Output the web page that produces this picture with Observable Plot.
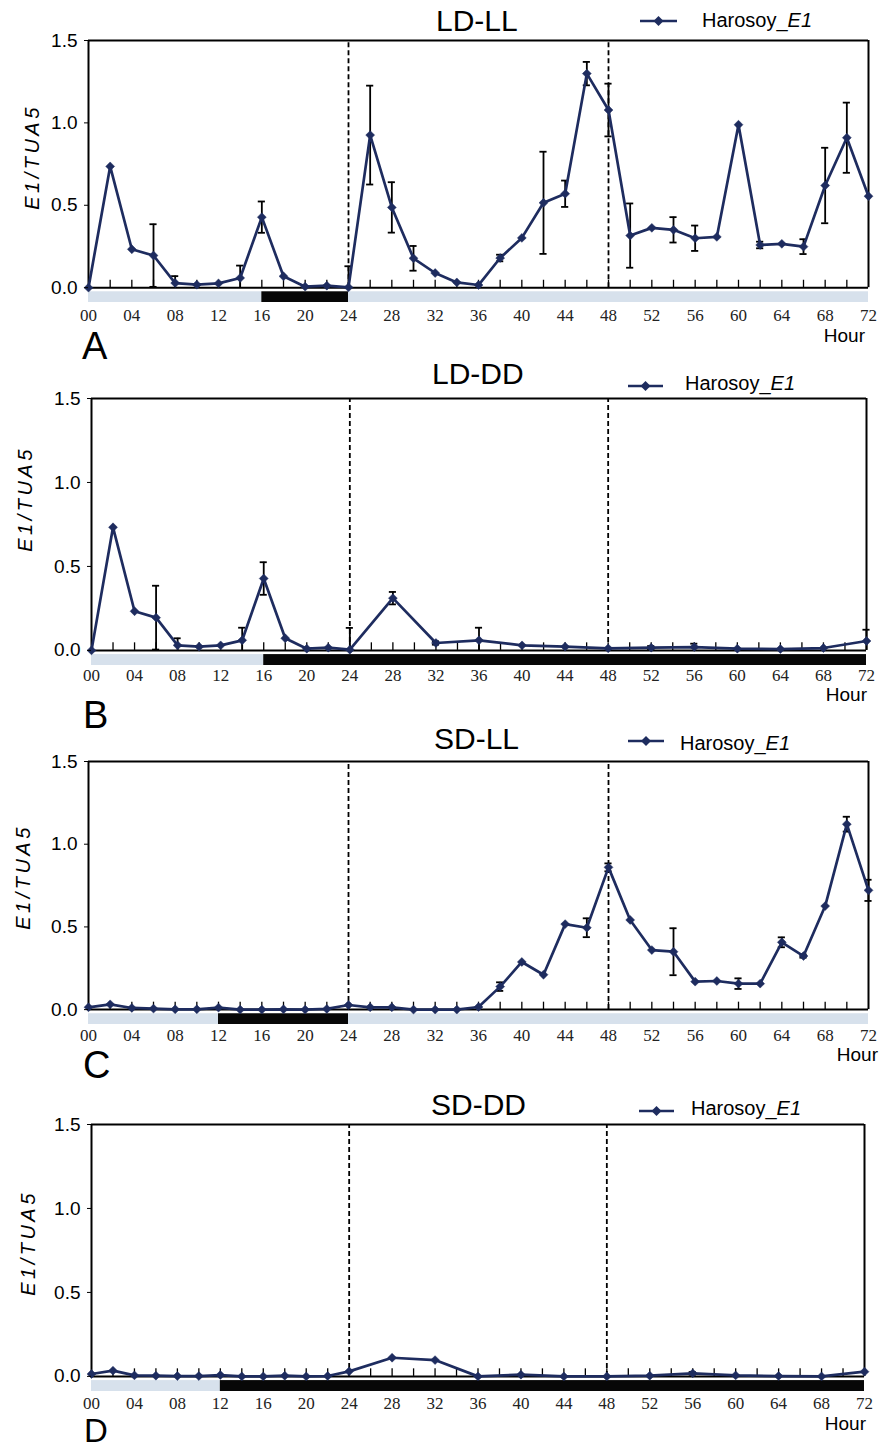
<!DOCTYPE html>
<html>
<head>
<meta charset="utf-8">
<script src="https://cdn.jsdelivr.net/npm/d3@7"></script>
<script src="https://cdn.jsdelivr.net/npm/@observablehq/plot@0.6"></script>
<style>
  body { margin: 0; background: #fff; }
  #page { position: relative; width: 884px; height: 1450px; overflow: hidden; font-family: "Liberation Sans", Arial, sans-serif; color: #000; }
  .abs { position: absolute; white-space: nowrap; }
  .title { font-size: 30px; }
  .legtext { font-size: 20px; }
  .hour { font-size: 19px; }
  .ylab { font-size: 20px; line-height: 1; font-style: italic; letter-spacing: 3.5px; transform: translate(-50%, -50%) rotate(-90deg); }
  .panel { position: absolute; left: 0; }
  .panel g[aria-label="x-axis tick label"] text { font-family: "Liberation Serif", "DejaVu Serif", serif; }
</style>
</head>
<body>
<div id="page"></div>
<script>
// ---------- data ----------
const hoursFull = [0,2,4,6,8,10,12,14,16,18,20,22,24,26,28,30,32,34,36,38,40,42,44,46,48,50,52,54,56,58,60,62,64,66,68,70,72];
const hoursSparse = [0,2,4,6,8,10,12,14,16,18,20,22,24,28,32,36,40,44,48,52,56,60,64,68,72];
const tickHours = [0,4,8,12,16,20,24,28,32,36,40,44,48,52,56,60,64,68,72];
const minorTickHours = [2,4,6,8,10,12,14,16,18,20,22,24,26,28,30,32,34,36,38,40,42,44,46,48,50,52,54,56,58,60,62,64,66,68,70];
const dashedHours = [24, 48];
const yTicks = [0, 0.5, 1.0, 1.5];
const titles = ["LD-LL", "LD-DD", "SD-LL", "SD-DD"];
const letters = ["A", "B", "C", "D"];
const seriesName = "Harosoy_";
const seriesItalic = "E1";
const yLabel = "E1/TUA5";
const xLabel = "Hour";

const valuesA = [0, 0.736, 0.233, 0.195, 0.028, 0.018, 0.026, 0.059, 0.428, 0.069, 0.006, 0.012, 0.002, 0.926, 0.487, 0.178, 0.089, 0.032, 0.016, 0.18, 0.302, 0.515, 0.57, 1.299, 1.078, 0.316, 0.363, 0.351, 0.3, 0.308, 0.989, 0.259, 0.266, 0.249, 0.62, 0.91, 0.555];
const errorsA = [0, 0, 0, 0.19, 0.042, 0, 0, 0.075, 0.095, 0, 0, 0, 0.128, 0.30, 0.153, 0.075, 0, 0, 0, 0.02, 0, 0.31, 0.08, 0.071, 0.16, 0.195, 0, 0.077, 0.077, 0, 0, 0.02, 0, 0.045, 0.229, 0.213, 0];
const valuesB = [0, 0.733, 0.233, 0.195, 0.03, 0.022, 0.03, 0.06, 0.428, 0.072, 0.01, 0.016, 0.004, 0.311, 0.044, 0.06, 0.03, 0.022, 0.012, 0.016, 0.02, 0.01, 0.008, 0.014, 0.056];
const errorsB = [0, 0, 0, 0.19, 0.042, 0, 0, 0.075, 0.097, 0, 0, 0, 0.13, 0.037, 0.01, 0.075, 0, 0, 0, 0.01, 0.02, 0, 0, 0, 0.067];
const valuesC = [0.014, 0.032, 0.01, 0.006, 0.002, 0.002, 0.012, 0, 0, 0.002, 0, 0.004, 0.028, 0.014, 0.014, 0, 0, 0, 0.016, 0.139, 0.288, 0.211, 0.517, 0.495, 0.86, 0.542, 0.36, 0.35, 0.169, 0.173, 0.157, 0.157, 0.407, 0.324, 0.626, 1.121, 0.721];
const errorsC = [0, 0, 0, 0, 0, 0, 0, 0, 0, 0, 0, 0, 0, 0, 0, 0, 0, 0, 0, 0.026, 0, 0, 0, 0.057, 0.024, 0, 0, 0.142, 0, 0, 0.032, 0, 0.03, 0.01, 0, 0.045, 0.064];
const valuesD = [0.014, 0.034, 0.006, 0.004, 0.002, 0.002, 0.008, 0, 0, 0.004, 0, 0.002, 0.03, 0.111, 0.097, 0, 0.01, 0, 0, 0.004, 0.018, 0.006, 0.002, 0, 0.028];
const errorsD = [0, 0, 0, 0, 0, 0, 0, 0, 0, 0, 0, 0, 0, 0, 0, 0, 0, 0, 0, 0, 0.008, 0, 0, 0, 0];

// light / dark periods [start, end]
const lightA = [[0, 16], [24, 72]];
const darkA = [[16, 24]];
const lightB = [[0, 16]];
const darkB = [[16, 72]];
const lightC = [[0, 12], [24, 72]];
const darkC = [[12, 24]];
const lightD = [[0, 12]];
const darkD = [[12, 72]];

// ---------- layout ----------
const navy = "#1e2c5f";
const panels = [
  {hours: hoursFull, values: valuesA, errors: errorsA, light: lightA, dark: darkA,
   top: 0, height: 355, mt: 40, mb: 53, left: 88, right: 868, tickPad: 6,
   ylab: [32, 157], title: [436, 20], leg: [640, 677, 21, 702, 20], hour: [865, 336], letter: [82, 347, 38]},
  {hours: hoursSparse, values: valuesB, errors: errorsB, light: lightB, dark: darkB,
   top: 355, height: 367, mt: 43, mb: 57, left: 91, right: 866, tickPad: 3,
   ylab: [25, 499], title: [432, 373], leg: [628, 663, 386, 685, 383], hour: [867, 695], letter: [83, 716, 38]},
  {hours: hoursFull, values: valuesC, errors: errorsC, light: lightC, dark: darkC,
   top: 722, height: 363, mt: 39, mb: 61, left: 88, right: 868, tickPad: 4,
   ylab: [23, 877], title: [434, 738], leg: [628, 664, 741, 680, 743], hour: [878, 1055], letter: [83, 1066, 38]},
  {hours: hoursSparse, values: valuesD, errors: errorsD, light: lightD, dark: darkD,
   top: 1085, height: 365, mt: 39, mb: 59, left: 91, right: 864, tickPad: 5,
   ylab: [28, 1243], title: [431, 1104], leg: [639, 674, 1111, 691, 1108], hour: [866, 1424], letter: [84, 1431, 33]}
];

const page = document.getElementById("page");
function addDiv(cls, text, left, cy, size, lh) {
  const d = document.createElement("div");
  d.className = "abs " + cls;
  if (typeof text === "string") d.textContent = text; else d.appendChild(text);
  d.style.left = left + "px";
  d.style.fontSize = size + "px";
  d.style.lineHeight = lh;
  d.style.top = (cy - size * lh / 2) + "px";
  page.appendChild(d);
  return d;
}

panels.forEach((p, i) => {
  const data = p.hours.map((h, k) => ({h, v: p.values[k], e: p.errors[k]}));
  const err = data.filter(d => d.e > 0);
  const errLow = err.filter(d => d.v - d.e > 0);
  const light = p.light.map(([s, e]) => ({s, e}));
  const dark = p.dark.map(([s, e]) => ({s, e}));
  const capHalf = 0.33;

  const svg = Plot.plot({
    width: 884,
    height: p.height,
    marginLeft: p.left,
    marginRight: 884 - p.right,
    marginTop: p.mt,
    marginBottom: p.mb,
    style: {background: "transparent", fontFamily: "Liberation Sans, Arial, sans-serif", overflow: "visible"},
    x: {domain: [0, 72]},
    y: {domain: [-0.09, 1.5]},
    marks: [
      Plot.rect(light, {x1: "s", x2: "e", y1: -0.025, y2: -0.09, fill: "#d7e1ec"}),
      Plot.rect(dark, {x1: "s", x2: "e", y1: -0.025, y2: -0.09, fill: "#070707"}),
      Plot.ruleX(minorTickHours, {y1: 0, y2: 0.045, stroke: "#000", strokeWidth: 1.3}),
      Plot.ruleX(dashedHours, {y1: 0, y2: 1.5, stroke: "#000", strokeWidth: 1.8, strokeDasharray: "5,3"}),
      Plot.ruleY([0, 1.5], {x1: 0, x2: 72, stroke: "#000", strokeWidth: 2}),
      Plot.ruleX([0, 72], {y1: 0, y2: 1.5, stroke: "#000", strokeWidth: 2}),
      Plot.ruleX(err, {x: "h", y1: d => Math.max(0, d.v - d.e), y2: d => d.v + d.e, stroke: "#000", strokeWidth: 1.8}),
      Plot.ruleY(err, {y: d => d.v + d.e, x1: d => d.h - capHalf, x2: d => d.h + capHalf, stroke: "#000", strokeWidth: 1.8}),
      Plot.ruleY(errLow, {y: d => d.v - d.e, x1: d => d.h - capHalf, x2: d => d.h + capHalf, stroke: "#000", strokeWidth: 1.8}),
      Plot.line(data, {x: "h", y: "v", stroke: navy, strokeWidth: 2.7}),
      Plot.dot(data, {x: "h", y: "v", symbol: "diamond2", r: 4, fill: navy, stroke: navy, strokeWidth: 0.5}),
      Plot.axisY({ticks: yTicks, tickFormat: d => d.toFixed(1), tickSize: 4, tickPadding: 7, fontSize: 19, label: null, stroke: "#000"}),
      Plot.axisX({ticks: tickHours, tickFormat: d => String(d).padStart(2, "0"), tickSize: 0, tickPadding: p.tickPad, fontSize: 17, fontFamily: "Liberation Serif", fill: "#222", label: null})
    ]
  });
  svg.classList.add("panel");
  svg.style.top = p.top + "px";
  page.appendChild(svg);

  // y label
  const yl = document.createElement("div");
  yl.className = "abs ylab";
  yl.textContent = yLabel;
  yl.style.left = p.ylab[0] + "px";
  yl.style.top = p.ylab[1] + "px";
  page.appendChild(yl);

  // title
  addDiv("title", titles[i], p.title[0], p.title[1], 30, 0.9);

  // legend key
  const [lx1, lx2, ly, tx, ty] = p.leg;
  const key = d3.create("svg").attr("width", lx2 - lx1 + 4).attr("height", 14)
    .style("position", "absolute").style("left", (lx1 - 2) + "px").style("top", (ly - 7) + "px");
  key.append("line").attr("x1", 2).attr("x2", lx2 - lx1 + 2).attr("y1", 7).attr("y2", 7)
    .attr("stroke", navy).attr("stroke-width", 2.7);
  const mx = (lx2 - lx1) / 2 + 2;
  key.append("path").attr("d", `M${mx},2L${mx + 5},7L${mx},12L${mx - 5},7Z`).attr("fill", navy);
  page.appendChild(key.node());

  const span = document.createElement("span");
  span.appendChild(document.createTextNode(seriesName));
  const it = document.createElement("i");
  it.textContent = seriesItalic;
  span.appendChild(it);
  addDiv("legtext", span, tx, ty, 20, 1);

  // Hour label (right-aligned)
  const hd = addDiv("hour", xLabel, 0, p.hour[1], 19, 0.8);
  hd.style.left = "auto";
  hd.style.right = (884 - p.hour[0]) + "px";

  // panel letter
  addDiv("letter", letters[i], p.letter[0], p.letter[1], p.letter[2], 0.78);
});
</script>
</body>
</html>
